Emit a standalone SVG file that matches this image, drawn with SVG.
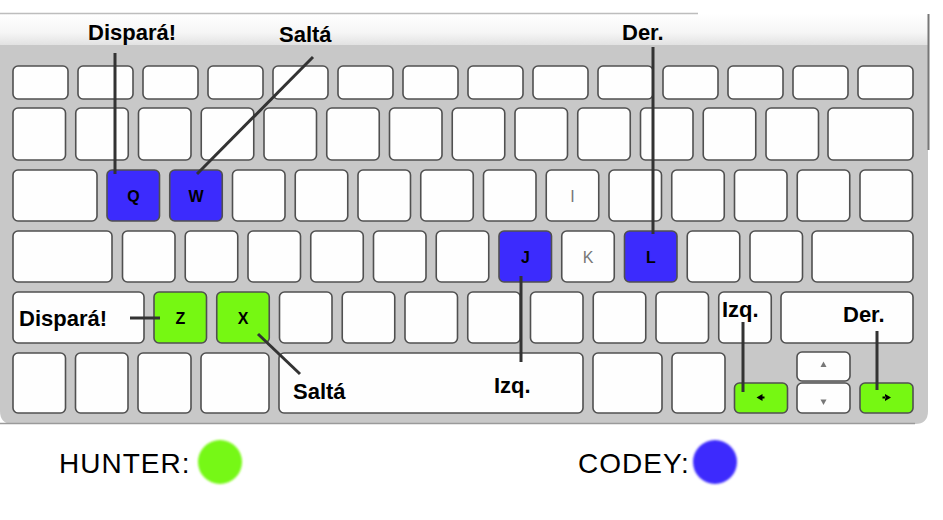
<svg xmlns="http://www.w3.org/2000/svg" width="943" height="520" viewBox="0 0 943 520">
<style>
.key{fill:#fefefe;stroke:#505050;stroke-width:1.6}
.blue{fill:#3c2bfd;stroke:#505050;stroke-width:1.6}
.green{fill:#76f812;stroke:#505050;stroke-width:1.6}
.lbl{font-family:"Liberation Sans",Arial,sans-serif;font-weight:bold;font-size:22px;fill:#000}
.kl{font-family:"Liberation Sans",Arial,sans-serif;font-weight:bold;font-size:16px;fill:#000;text-anchor:middle}
.kg{font-family:"Liberation Sans",Arial,sans-serif;font-size:16px;fill:#777;text-anchor:middle}
.leg{font-family:"Liberation Sans",Arial,sans-serif;font-size:28px;fill:#000;letter-spacing:1px}
.con{stroke:#333;stroke-width:3;fill:none}
</style>
<defs>
<linearGradient id="band" x1="0" y1="0" x2="0" y2="1">
<stop offset="0" stop-color="#ffffff"/>
<stop offset="0.6" stop-color="#f6f6f6"/>
<stop offset="1" stop-color="#e2e2e2"/>
</linearGradient>
<filter id="soft" x="-20%" y="-20%" width="140%" height="140%"><feGaussianBlur stdDeviation="1"/></filter>
</defs>
<rect width="943" height="520" fill="#fff"/>
<g id="keyboard-body">
<path d="M0,13 H928 V411 Q928,424 915,424 H13 Q0,424 0,411 Z" fill="#c8c8c8"/>
<path d="M0,423.5 H915" stroke="#9a9a9a" stroke-width="1.5"/>
<rect x="0" y="13" width="929" height="32" fill="url(#band)"/>
<line x1="0" y1="13.5" x2="698" y2="13.5" stroke="#bdbdbd" stroke-width="1.5"/>
<line x1="928.5" y1="14" x2="928.5" y2="150" stroke="#777" stroke-width="2"/>
</g>
<g id="row1">
<rect class="key" x="13" y="66" width="55" height="33" rx="5"/>
<rect class="key" x="78" y="66" width="55" height="33" rx="5"/>
<rect class="key" x="143" y="66" width="55" height="33" rx="5"/>
<rect class="key" x="208" y="66" width="55" height="33" rx="5"/>
<rect class="key" x="273" y="66" width="55" height="33" rx="5"/>
<rect class="key" x="338" y="66" width="55" height="33" rx="5"/>
<rect class="key" x="403" y="66" width="55" height="33" rx="5"/>
<rect class="key" x="468" y="66" width="55" height="33" rx="5"/>
<rect class="key" x="533" y="66" width="55" height="33" rx="5"/>
<rect class="key" x="598" y="66" width="55" height="33" rx="5"/>
<rect class="key" x="663" y="66" width="55" height="33" rx="5"/>
<rect class="key" x="728" y="66" width="55" height="33" rx="5"/>
<rect class="key" x="793" y="66" width="55" height="33" rx="5"/>
<rect class="key" x="858" y="66" width="55" height="33" rx="5"/>
</g>
<g id="row2">
<rect class="key" x="13" y="108" width="52.5" height="52" rx="5"/>
<rect class="key" x="75.75" y="108" width="52.5" height="52" rx="5"/>
<rect class="key" x="138.5" y="108" width="52.5" height="52" rx="5"/>
<rect class="key" x="201.25" y="108" width="52.5" height="52" rx="5"/>
<rect class="key" x="264" y="108" width="52.5" height="52" rx="5"/>
<rect class="key" x="326.75" y="108" width="52.5" height="52" rx="5"/>
<rect class="key" x="389.5" y="108" width="52.5" height="52" rx="5"/>
<rect class="key" x="452.25" y="108" width="52.5" height="52" rx="5"/>
<rect class="key" x="515" y="108" width="52.5" height="52" rx="5"/>
<rect class="key" x="577.75" y="108" width="52.5" height="52" rx="5"/>
<rect class="key" x="640.5" y="108" width="52.5" height="52" rx="5"/>
<rect class="key" x="703.25" y="108" width="52.5" height="52" rx="5"/>
<rect class="key" x="766" y="108" width="52.5" height="52" rx="5"/>
<rect class="key" x="828" y="108" width="85" height="52" rx="5"/>
</g>
<g id="row3">
<rect class="key" x="13" y="170" width="84" height="51" rx="5"/>
<rect class="key" x="232.5" y="170" width="52.5" height="51" rx="5"/>
<rect class="key" x="295.25" y="170" width="52.5" height="51" rx="5"/>
<rect class="key" x="358" y="170" width="52.5" height="51" rx="5"/>
<rect class="key" x="420.75" y="170" width="52.5" height="51" rx="5"/>
<rect class="key" x="483.5" y="170" width="52.5" height="51" rx="5"/>
<g id="key-I"><rect class="key" x="546.25" y="170" width="52.5" height="51" rx="5"/><text class="kg" x="572.5" y="201.5">I</text></g>
<rect class="key" x="609" y="170" width="52.5" height="51" rx="5"/>
<rect class="key" x="671.75" y="170" width="52.5" height="51" rx="5"/>
<rect class="key" x="734.5" y="170" width="52.5" height="51" rx="5"/>
<rect class="key" x="797.25" y="170" width="52.5" height="51" rx="5"/>
<rect class="key" x="860" y="170" width="52.5" height="51" rx="5"/>
</g>
<g id="key-Q"><rect class="blue" x="107" y="170" width="52.5" height="51" rx="5"/><text class="kl" x="133.5" y="202">Q</text></g>
<g id="key-W"><rect class="blue" x="169.75" y="170" width="52.5" height="51" rx="5"/><text class="kl" x="196" y="202">W</text></g>
<g id="row4">
<rect class="key" x="13" y="231" width="99" height="51" rx="5"/>
<rect class="key" x="122.5" y="231" width="52.5" height="51" rx="5"/>
<rect class="key" x="185.25" y="231" width="52.5" height="51" rx="5"/>
<rect class="key" x="248" y="231" width="52.5" height="51" rx="5"/>
<rect class="key" x="310.75" y="231" width="52.5" height="51" rx="5"/>
<rect class="key" x="373.5" y="231" width="52.5" height="51" rx="5"/>
<rect class="key" x="436.25" y="231" width="52.5" height="51" rx="5"/>
<g id="key-K"><rect class="key" x="561.75" y="231" width="52.5" height="51" rx="5"/><text class="kg" x="588" y="262.5">K</text></g>
<rect class="key" x="687.25" y="231" width="52.5" height="51" rx="5"/>
<rect class="key" x="750" y="231" width="52.5" height="51" rx="5"/>
<rect class="key" x="812" y="231" width="101" height="51" rx="5"/>
</g>
<g id="key-J"><rect class="blue" x="499" y="231" width="52.5" height="51" rx="5"/><text class="kl" x="525.5" y="263">J</text></g>
<g id="key-L"><rect class="blue" x="624.5" y="231" width="52.5" height="51" rx="5"/><text class="kl" x="651" y="263">L</text></g>
<g id="row5">
<rect class="key" x="13" y="292" width="131" height="51" rx="5"/>
<rect class="key" x="279.5" y="292" width="52.5" height="51" rx="5"/>
<rect class="key" x="342.25" y="292" width="52.5" height="51" rx="5"/>
<rect class="key" x="405" y="292" width="52.5" height="51" rx="5"/>
<rect class="key" x="467.75" y="292" width="52.5" height="51" rx="5"/>
<rect class="key" x="530.5" y="292" width="52.5" height="51" rx="5"/>
<rect class="key" x="593.25" y="292" width="52.5" height="51" rx="5"/>
<rect class="key" x="656" y="292" width="52.5" height="51" rx="5"/>
<rect class="key" x="718.75" y="292" width="52.5" height="51" rx="5"/>
<rect class="key" x="781" y="292" width="132" height="51" rx="5"/>
</g>
<g id="key-Z"><rect class="green" x="154" y="292" width="52.5" height="51" rx="5"/><text class="kl" x="180.5" y="324">Z</text></g>
<g id="key-X"><rect class="green" x="216.75" y="292" width="52.5" height="51" rx="5"/><text class="kl" x="243" y="324">X</text></g>
<g id="row6">
<rect class="key" x="13" y="353" width="52.5" height="60" rx="5"/>
<rect class="key" x="75.5" y="353" width="52.5" height="60" rx="5"/>
<rect class="key" x="138" y="353" width="53" height="60" rx="5"/>
<rect class="key" x="201" y="353" width="68" height="60" rx="5"/>
<rect class="key" x="279" y="353" width="304" height="60" rx="5"/>
<rect class="key" x="593" y="353" width="69" height="60" rx="5"/>
<rect class="key" x="672" y="353" width="53" height="60" rx="5"/>
</g>
<g id="key-up"><rect class="key" x="797" y="352" width="53" height="29" rx="5"/><path d="M823.5,361.5 L826.5,367 L820.5,367 Z" fill="#777"/></g>
<g id="key-down"><rect class="key" x="797" y="383" width="53" height="30" rx="5"/><path d="M820.5,399.5 L826.5,399.5 L823.5,405 Z" fill="#777"/></g>
<g id="key-left"><rect class="green" x="734.5" y="383" width="53" height="30" rx="5"/><path d="M756.5,397.5 L762.5,394 L762.5,401 Z M762,396.5 H764.5 V398.5 H762 Z" fill="#000"/></g>
<g id="key-right"><rect class="green" x="860" y="383" width="53" height="30" rx="5"/><path d="M891,397.5 L885,394 L885,401 Z M882.5,396.5 H885.5 V398.5 H882.5 Z" fill="#000"/></g>
<g id="connectors">
<line class="con" x1="115" y1="53" x2="115" y2="174"/>
<line class="con" x1="313" y1="57" x2="197" y2="174"/>
<line class="con" x1="653" y1="47" x2="653" y2="234"/>
<line class="con" x1="521" y1="276" x2="521" y2="362"/>
<line class="con" x1="130" y1="318" x2="160" y2="318"/>
<line class="con" x1="258" y1="334" x2="300" y2="374"/>
<line class="con" x1="743" y1="322" x2="743" y2="392"/>
<line class="con" x1="877" y1="331" x2="877" y2="390"/>
</g>
<g id="labels">
<text class="lbl" x="88" y="40">Dispará!</text>
<text class="lbl" x="279" y="42">Saltá</text>
<text class="lbl" x="622" y="40">Der.</text>
<text class="lbl" x="19" y="326">Dispará!</text>
<text class="lbl" x="293" y="399">Saltá</text>
<text class="lbl" x="494" y="393">Izq.</text>
<text class="lbl" x="722" y="317">Izq.</text>
<text class="lbl" x="843" y="322">Der.</text>
</g>
<g id="legend-hunter">
<text class="leg" x="59" y="473">HUNTER:</text>
<circle cx="220" cy="462" r="22" fill="#76f812" filter="url(#soft)"/>
</g>
<g id="legend-codey">
<text class="leg" x="578" y="473">CODEY:</text>
<circle cx="715" cy="462" r="22" fill="#3c2bfd" filter="url(#soft)"/>
</g>
</svg>
